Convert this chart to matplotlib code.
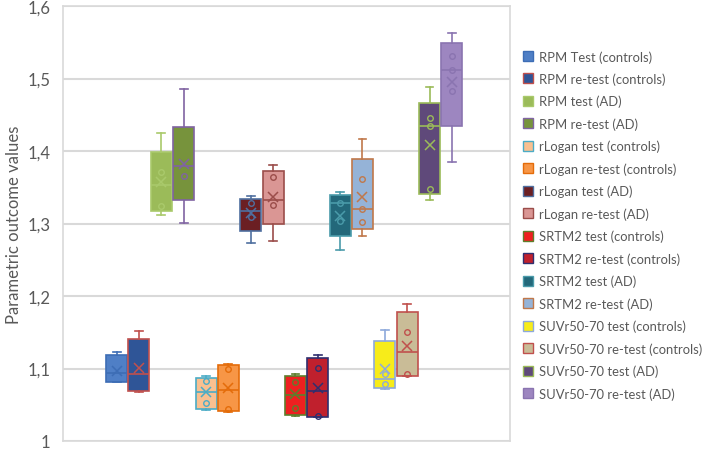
import matplotlib
matplotlib.use("Agg")
import matplotlib.pyplot as plt
from matplotlib.patches import Patch

# ---- data ----
labels = ["RPM Test (controls)", "RPM re-test (controls)", "RPM test (AD)", "RPM re-test (AD)",
          "rLogan test (controls)", "rLogan re-test (controls)", "rLogan test (AD)", "rLogan re-test (AD)",
          "SRTM2 test (controls)", "SRTM2 re-test (controls)", "SRTM2 test (AD)", "SRTM2 re-test (AD)",
          "SUVr50-70 test (controls)", "SUVr50-70 re-test (controls)", "SUVr50-70 test (AD)",
          "SUVr50-70 re-test (AD)"]
whisker_low = [1.081, 1.068, 1.312, 1.301, 1.043, 1.040, 1.273, 1.276,
               1.034, 1.033, 1.263, 1.283, 1.072, 1.090, 1.332, 1.385]
q1 = [1.081, 1.069, 1.317, 1.332, 1.044, 1.041, 1.290, 1.299,
      1.036, 1.033, 1.283, 1.292, 1.073, 1.090, 1.341, 1.434]
median = [1.094, 1.092, 1.353, 1.379, 1.068, 1.070, 1.317, 1.332,
          1.063, 1.069, 1.328, 1.320, 1.086, 1.123, 1.434, 1.512]
q3 = [1.119, 1.141, 1.399, 1.433, 1.087, 1.105, 1.334, 1.372,
      1.090, 1.114, 1.339, 1.389, 1.138, 1.178, 1.466, 1.549]
whisker_high = [1.123, 1.152, 1.425, 1.486, 1.089, 1.106, 1.338, 1.381,
                1.092, 1.119, 1.343, 1.417, 1.153, 1.189, 1.488, 1.563]
means = [1.097, 1.101, 1.357, 1.382, 1.067, 1.073, 1.314, 1.337,
         1.065, 1.073, 1.310, 1.337, 1.099, 1.131, 1.408, 1.495]
points = [[], [], [1.371, 1.324], [1.366], [1.083, 1.052], [1.099, 1.044],
          [1.328, 1.309], [1.364, 1.326], [1.081, 1.046], [1.101, 1.034],
          [1.328, 1.303], [1.361, 1.320, 1.302], [1.092, 1.079], [1.150, 1.092],
          [1.446, 1.434, 1.348], [1.531, 1.512, 1.483]]
y_ticks = [1.0, 1.1, 1.2, 1.3, 1.4, 1.5, 1.6]
y_ticklabels = ["1", "1,1", "1,2", "1,3", "1,4", "1,5", "1,6"]

face_colors = ["#4F7FC6", "#2F5597", "#9BBB59", "#77933C", "#FAC090", "#F79646", "#6B1F23", "#DA9694",
               "#EE2020", "#C0202D", "#23687A", "#95B3D7", "#F7EC1A", "#C9BC97", "#5F497A", "#9D86C0"]
edge_colors = ["#3D6DB5", "#C0504D", "#A9C96B", "#8064A2", "#4BACC6", "#E46C0A", "#4F6F9F", "#9B4D4A",
               "#5E7E2C", "#2F2F6F", "#4A9BAA", "#C0784A", "#8EA9DB", "#C0504D", "#9BBB59", "#8A74B0"]

plt.rcParams['font.family'] = ['Lato', 'DejaVu Sans']

fig = plt.figure(figsize=(7.05, 4.52), dpi=100)
ax = fig.add_axes([63/705, 1-442/452, (510-63)/705, (442-7)/452])

positions = list(range(len(labels)))
for i in positions:
    stats = [dict(whislo=whisker_low[i], q1=q1[i], med=median[i], q3=q3[i],
                  whishi=whisker_high[i], fliers=[], label=labels[i])]
    ec = edge_colors[i]
    ax.bxp(stats, positions=[i], widths=0.94, patch_artist=True, showfliers=False,
           capwidths=0.35,
           boxprops=dict(facecolor=face_colors[i], edgecolor=ec, linewidth=1.2),
           whiskerprops=dict(color=ec, linewidth=1.2),
           capprops=dict(color=ec, linewidth=1.2),
           medianprops=dict(color=ec, linewidth=1.2))
    ax.plot([i], [means[i]], marker='x', color=ec, markersize=7, mew=1.1, linestyle='none', zorder=5)
    if points[i]:
        ax.plot([i]*len(points[i]), points[i], marker='o', markersize=4, mfc='none', mec=ec,
                mew=1.0, linestyle='none', zorder=5)

ax.set_xlim(-2.4, 17.6)
ax.set_ylim(1.0, 1.6)
ax.set_yticks(y_ticks)
ax.set_yticklabels(y_ticklabels)
ax.set_xticks([])
ax.tick_params(axis='y', length=0, labelsize=12, colors='#595959', pad=9)
ax.grid(axis='y', color='#D9D9D9', linewidth=1.5)
ax.set_axisbelow(True)
for s in ax.spines.values():
    s.set_color('#D9D9D9')
    s.set_linewidth(1.2)
ax.set_ylabel("Parametric outcome values", fontsize=12, color='#595959', labelpad=4)

handles = [Patch(facecolor=face_colors[i], edgecolor=edge_colors[i], linewidth=1.0) for i in positions]
fig.legend(handles, labels, loc='upper left', bbox_to_anchor=(523/705, 1-51/452), frameon=False,
           fontsize=9.4, handlelength=0.8, handleheight=0.8, handletextpad=0.45, labelspacing=0.76,
           labelcolor='#595959', borderaxespad=0, borderpad=0)

fig.savefig("out.png", dpi=100)
